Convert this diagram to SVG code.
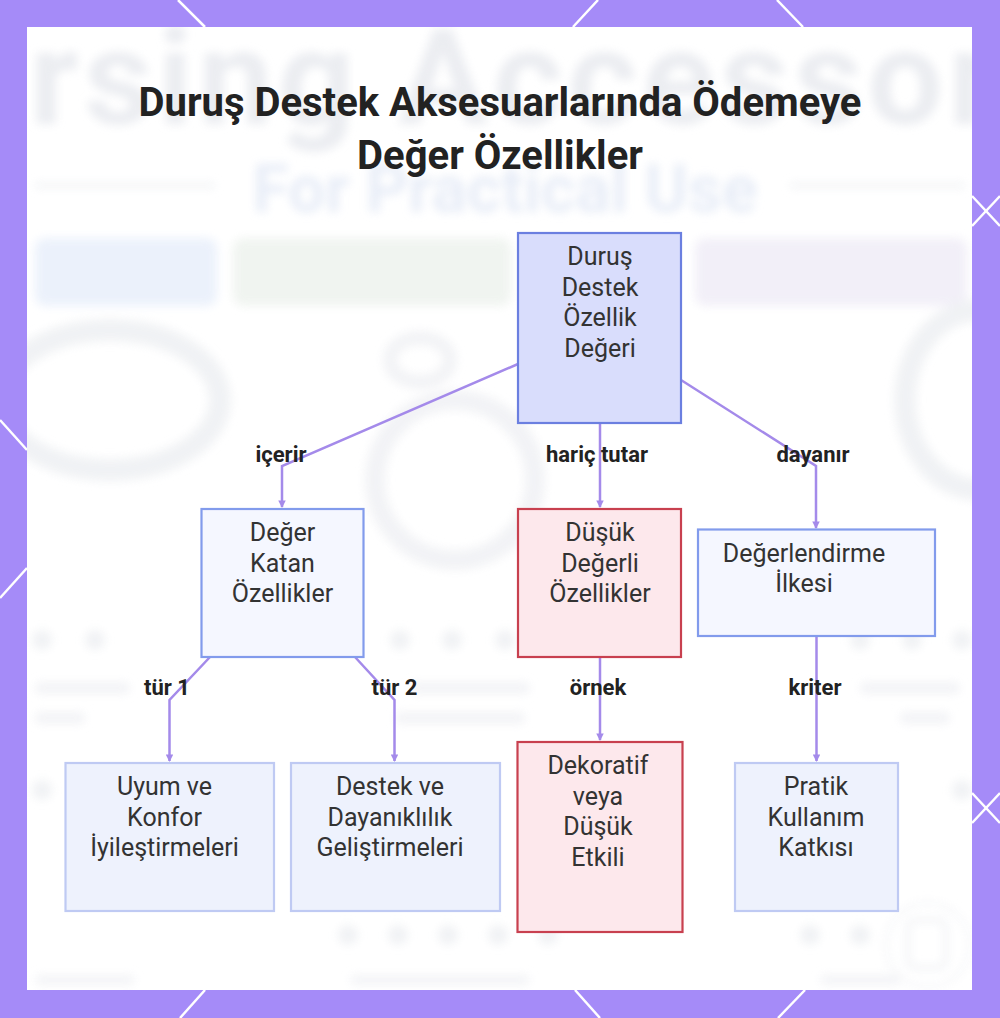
<svg xmlns="http://www.w3.org/2000/svg" width="1000" height="1018" viewBox="0 0 1000 1018">
  <defs>
    <style>
      .ttl{font-family:Roboto,"Liberation Sans",sans-serif;font-weight:700;font-size:40px;fill:#222;text-anchor:middle}
      .nt{font-family:Roboto,"Liberation Sans",sans-serif;font-size:25px;fill:#333;text-anchor:middle}
      .lb{font-family:Roboto,"Liberation Sans",sans-serif;font-weight:700;font-size:22px;fill:#222;text-anchor:middle}
      .edge{fill:none;stroke:#a48aea;stroke-width:2.5;stroke-linejoin:miter}
      .hex{stroke:#ffffff;stroke-width:2.5;fill:none}
      .root{fill:#d9ddfc;stroke:#6b7fe0;stroke-width:2.2}
      .mid{fill:#f5f7ff;stroke:#829bec;stroke-width:2.2}
      .bad{fill:#fde8ec;stroke:#c8404f;stroke-width:2.2}
      .leaf{fill:#eef2fd;stroke:#bfcaf3;stroke-width:2.2}
      .bgt{font-family:Roboto,"Liberation Sans",sans-serif;font-weight:700}
    </style>
    <filter id="blur" x="-10%" y="-10%" width="120%" height="120%">
      <feGaussianBlur stdDeviation="5"/>
    </filter>
    <clipPath id="panel"><rect x="27" y="27" width="945" height="963"/></clipPath>
    <marker id="arr" viewBox="0 0 8 8" refX="7" refY="4" markerWidth="3" markerHeight="3" orient="auto">
      <path d="M0,0 L8,4 L0,8 z" fill="#a48aea"/>
    </marker>
  </defs>

  <!-- frame -->
  <rect x="0" y="0" width="1000" height="1018" fill="#a58bf8"/>
  <g class="hex">
    <line x1="178" y1="0" x2="205" y2="27"/>
    <line x1="598" y1="0" x2="573" y2="27"/>
    <line x1="777" y1="0" x2="803" y2="27"/>
    <line x1="205" y1="990" x2="180" y2="1018"/>
    <line x1="575" y1="990" x2="600" y2="1018"/>
    <line x1="805" y1="990" x2="778" y2="1018"/>
    <line x1="0" y1="420" x2="27" y2="450"/>
    <line x1="0" y1="598" x2="27" y2="568"/>
    <line x1="972" y1="196" x2="1000" y2="226"/>
    <line x1="972" y1="226" x2="1000" y2="196"/>
    <line x1="972" y1="793" x2="1000" y2="823"/>
    <line x1="972" y1="823" x2="1000" y2="793"/>
  </g>
  <rect x="27" y="27" width="945" height="963" fill="#ffffff"/>

  <!-- faded background picture -->
  <g clip-path="url(#panel)">
    <g filter="url(#blur)" opacity="0.85">
      <text class="bgt" x="-150" y="124" font-size="134" letter-spacing="5" fill="#e8eaef">Nursing Accessories</text>
      <text class="bgt" x="505" y="212" font-size="66" fill="#e4eaf6" text-anchor="middle">For Practical Use</text>
      <rect x="35" y="183" width="180" height="5" fill="#eef0f3"/>
      <rect x="790" y="183" width="175" height="5" fill="#eef0f3"/>
      <rect x="35" y="238" width="182" height="68" rx="10" fill="#e8effb"/>
      <rect x="233" y="238" width="278" height="68" rx="10" fill="#eef3ee"/>
      <rect x="695" y="238" width="272" height="68" rx="10" fill="#f0edf7"/>
      <ellipse cx="110" cy="400" rx="110" ry="70" fill="none" stroke="#eef0f3" stroke-width="22"/>
      <circle cx="455" cy="480" r="80" fill="none" stroke="#f0f1f4" stroke-width="20"/>
      <ellipse cx="420" cy="360" rx="30" ry="22" fill="none" stroke="#f0f1f4" stroke-width="14"/>
      <ellipse cx="980" cy="400" rx="75" ry="90" fill="none" stroke="#eef0f3" stroke-width="22"/>
      <g fill="#eef0f3">
        <circle cx="42" cy="640" r="10"/><circle cx="95" cy="640" r="10"/>
        <circle cx="400" cy="640" r="10"/><circle cx="452" cy="640" r="10"/><circle cx="505" cy="640" r="10"/>
        <circle cx="860" cy="640" r="10"/><circle cx="912" cy="640" r="10"/><circle cx="962" cy="640" r="10"/>
        <circle cx="42" cy="790" r="10"/><circle cx="962" cy="790" r="10"/>
        <circle cx="348" cy="935" r="10"/><circle cx="398" cy="935" r="10"/><circle cx="448" cy="935" r="10"/><circle cx="498" cy="935" r="10"/><circle cx="548" cy="935" r="10"/>
        <circle cx="810" cy="935" r="10"/><circle cx="860" cy="935" r="10"/>
      </g>
      <g fill="#f1f2f5">
        <rect x="35" y="682" width="95" height="12" rx="5"/>
        <rect x="35" y="712" width="50" height="12" rx="5"/>
        <rect x="410" y="682" width="120" height="12" rx="5"/>
        <rect x="395" y="712" width="130" height="12" rx="5"/>
        <rect x="860" y="682" width="100" height="12" rx="5"/>
        <rect x="900" y="712" width="50" height="12" rx="5"/>
        <rect x="35" y="975" width="100" height="10" rx="5"/>
        <rect x="350" y="975" width="180" height="10" rx="5"/>
        <rect x="820" y="975" width="80" height="10" rx="5"/>
      </g>
      <circle cx="928" cy="945" r="42" fill="none" stroke="#f1f2f5" stroke-width="3"/>
      <rect x="908" y="920" width="38" height="48" rx="8" fill="none" stroke="#eceef2" stroke-width="4"/>
    </g>
  </g>

  <!-- title -->
  <text class="ttl" x="500" y="116">Duruş Destek Aksesuarlarında Ödemeye</text>
  <text class="ttl" x="500" y="169">Değer Özellikler</text>

  <!-- connectors -->
  <g id="connectors">
    <path class="edge" d="M518,364 L282,466 L282,507" marker-end="url(#arr)"/>
    <path class="edge" d="M600,423 L600,507" marker-end="url(#arr)"/>
    <path class="edge" d="M681,380 L816,466 L816,528" marker-end="url(#arr)"/>
    <path class="edge" d="M210,657 L169.5,700 L169.5,761" marker-end="url(#arr)"/>
    <path class="edge" d="M355,657 L394.5,700 L394.5,761" marker-end="url(#arr)"/>
    <path class="edge" d="M600,657 L600,740" marker-end="url(#arr)"/>
    <path class="edge" d="M816.5,636 L816.5,761" marker-end="url(#arr)"/>
    <text class="lb" x="281" y="462">içerir</text>
    <text class="lb" x="597" y="462">hariç tutar</text>
    <text class="lb" x="813" y="462">dayanır</text>
    <text class="lb" x="167" y="695">tür 1</text>
    <text class="lb" x="394.5" y="695">tür 2</text>
    <text class="lb" x="598" y="695">örnek</text>
    <text class="lb" x="815" y="695">kriter</text>
  </g>

  <!-- nodes -->
  <g id="root">
    <rect class="root" x="518" y="233" width="163" height="190"/>
    <text class="nt" x="600" y="265">Duruş</text>
    <text class="nt" x="600" y="295.5">Destek</text>
    <text class="nt" x="600" y="326">Özellik</text>
    <text class="nt" x="600" y="356.5">Değeri</text>
  </g>
  <g id="deger-katan">
    <rect class="mid" x="201.5" y="509" width="162" height="148"/>
    <text class="nt" x="282.5" y="541">Değer</text>
    <text class="nt" x="282.5" y="571.5">Katan</text>
    <text class="nt" x="282.5" y="602">Özellikler</text>
  </g>
  <g id="dusuk-degerli">
    <rect class="bad" x="518" y="509" width="163" height="148"/>
    <text class="nt" x="600" y="541">Düşük</text>
    <text class="nt" x="600" y="571.5">Değerli</text>
    <text class="nt" x="600" y="602">Özellikler</text>
  </g>
  <g id="degerlendirme">
    <rect class="mid" x="698" y="529.5" width="237" height="106.5"/>
    <text class="nt" x="804" y="561.5">Değerlendirme</text>
    <text class="nt" x="804" y="592">İlkesi</text>
  </g>
  <g id="uyum">
    <rect class="leaf" x="65.5" y="763" width="208.5" height="148"/>
    <text class="nt" x="164.5" y="795">Uyum ve</text>
    <text class="nt" x="164.5" y="825.5">Konfor</text>
    <text class="nt" x="164.5" y="856">İyileştirmeleri</text>
  </g>
  <g id="destek">
    <rect class="leaf" x="291" y="763" width="209" height="148"/>
    <text class="nt" x="390" y="795">Destek ve</text>
    <text class="nt" x="390" y="825.5">Dayanıklılık</text>
    <text class="nt" x="390" y="856">Geliştirmeleri</text>
  </g>
  <g id="dekoratif">
    <rect class="bad" x="517.5" y="742" width="165" height="190"/>
    <text class="nt" x="598" y="774">Dekoratif</text>
    <text class="nt" x="598" y="804.5">veya</text>
    <text class="nt" x="598" y="835">Düşük</text>
    <text class="nt" x="598" y="865.5">Etkili</text>
  </g>
  <g id="pratik">
    <rect class="leaf" x="735" y="763" width="163" height="148"/>
    <text class="nt" x="816" y="795">Pratik</text>
    <text class="nt" x="816" y="825.5">Kullanım</text>
    <text class="nt" x="816" y="856">Katkısı</text>
  </g>
</svg>
